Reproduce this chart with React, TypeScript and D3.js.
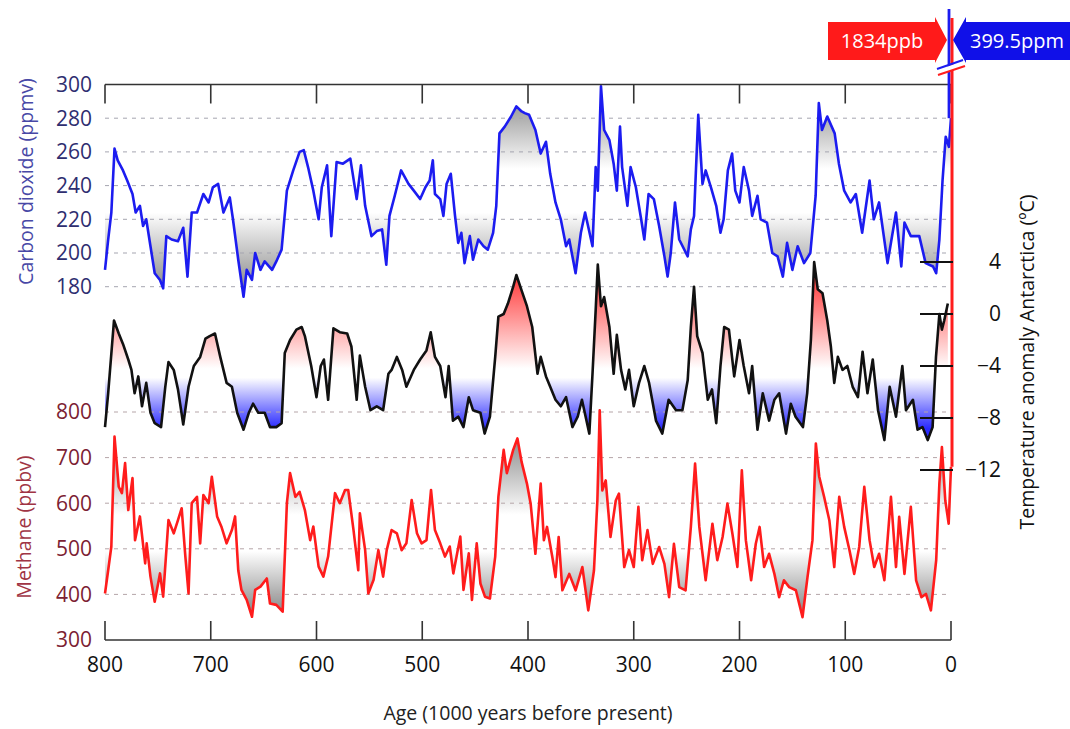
import React from "react";
import * as d3 from "d3";

// axis ticks
const ageTicks = [800, 700, 600, 500, 400, 300, 200, 100, 0];
const co2Ticks = [300, 280, 260, 240, 220, 200, 180];
const ch4Ticks = [800, 700, 600, 500, 400, 300];
const tempTicks = [4, 0, -4, -8, -12];

// [age (kyr BP), CO2 ppmv]
const co2Data: [number, number][] = [
  [800, 190], [797, 208], [794, 224], [791, 262], [788, 255], [783, 249], [779, 243], [774, 235], [771, 224], [767, 228],
  [764, 216], [761, 220], [757, 204], [753, 188], [748, 184], [745, 179], [742, 210], [737, 208], [731, 207], [726, 215],
  [722, 186], [718, 224], [713, 224], [707, 235], [702, 230], [698, 239], [693, 241], [688, 224], [682, 233], [679, 220],
  [674, 196], [669, 174], [666, 190], [661, 184], [658, 200], [653, 190], [649, 195], [642, 190], [638, 195], [633, 202],
  [628, 237], [622, 249], [616, 260], [612, 261], [608, 251], [603, 237], [598, 220], [595, 239], [590, 252], [586, 210],
  [581, 254], [575, 253], [568, 256], [562, 232], [558, 252], [554, 228], [548, 210], [543, 213], [538, 214], [534, 193],
  [531, 222], [526, 234], [520, 249], [513, 241], [508, 237], [502, 232], [497, 239], [493, 243], [490, 255], [488, 235],
  [483, 232], [480, 222], [477, 241], [473, 247], [469, 222], [466, 206], [463, 212], [460, 194], [455, 210], [452, 196],
  [447, 208], [442, 204], [438, 202], [433, 212], [430, 228], [427, 271], [422, 275], [416, 281], [411, 287], [406, 284],
  [403, 283], [399, 282], [393, 273], [388, 259], [383, 266], [379, 247], [374, 230], [369, 220], [364, 204], [361, 208],
  [355, 188], [350, 212], [346, 224], [339, 204], [336, 251], [334, 237], [331, 299], [328, 273], [323, 267], [319, 253],
  [316, 237], [313, 275], [311, 251], [306, 228], [303, 251], [298, 239], [293, 220], [290, 208], [286, 235], [281, 232],
  [276, 216], [271, 198], [268, 186], [265, 200], [261, 230], [257, 208], [249, 198], [246, 214], [243, 222], [239, 282],
  [235, 241], [232, 249], [227, 239], [222, 228], [218, 212], [215, 220], [211, 249], [207, 259], [204, 237], [200, 230],
  [196, 251], [191, 237], [188, 222], [183, 234], [180, 220], [174, 218], [169, 200], [164, 198], [159, 186], [155, 206],
  [150, 190], [145, 204], [139, 194], [133, 200], [128, 234], [125, 289], [122, 273], [117, 281], [110, 271], [106, 253],
  [101, 237], [95, 230], [90, 235], [84, 212], [77, 243], [73, 220], [68, 230], [60, 194], [52, 224], [47, 192],
  [44, 218], [38, 210], [30, 210], [24, 194], [17, 192], [14, 188], [11, 208], [8, 243], [5, 269], [2, 263], [0, 280],
];

// [age, temperature anomaly °C]
const tempData: [number, number][] = [
  [800, -8.7], [797, -6.1], [791.5, -0.5], [787, -1.5], [783, -2.3], [778, -3.5], [775, -4.3], [772, -6.1], [768.5, -4.8], [765, -7.1],
  [761, -5.3], [757, -7.6], [753, -8.4], [747, -8.7], [743, -5.6], [740, -3.7], [735, -4.3], [731, -5.8], [726, -8.5], [721, -5.6],
  [716, -4.0], [710, -3.3], [705, -1.9], [701, -1.7], [696, -1.5], [691, -3.3], [685, -5.3], [680, -5.6], [675, -7.6], [669, -8.9],
  [664, -7.6], [660, -6.9], [655, -7.6], [649, -7.6], [644, -8.7], [638, -8.7], [633, -8.4], [630, -3.0], [625, -2.0], [619, -1.2],
  [614, -1.0], [611, -1.7], [605, -4.0], [600, -6.4], [596, -4.0], [593, -3.5], [589, -6.6], [584, -1.1], [578, -1.4], [571, -1.5],
  [567, -2.5], [562, -6.6], [559, -3.2], [554, -5.6], [549, -7.4], [543, -7.1], [537, -7.4], [532, -4.6], [529, -4.3], [524, -3.3],
  [519, -4.3], [515, -5.6], [508, -4.3], [502, -3.5], [496, -2.8], [492, -1.4], [488, -3.3], [483, -4.0], [478, -6.4], [475, -4.0],
  [471, -8.2], [466, -7.9], [461, -8.7], [456, -6.4], [452, -7.4], [445, -7.6], [441, -9.2], [436, -7.9], [431, -3.3], [428, -0.2],
  [423, 0], [419, 0.8], [414, 2.1], [411, 3.0], [406, 1.8], [401, 0.6], [396, -1.0], [391, -4.6], [388, -3.3], [383, -4.8],
  [379, -5.6], [374, -6.6], [369, -7.1], [364, -6.4], [358, -8.7], [353, -7.9], [349, -6.6], [342, -9.2], [339, -4.6], [336, 0.3],
  [334, 3.8], [331, 0.6], [328, 1.3], [323, -1.0], [319, -4.6], [316, -1.6], [312, -4.3], [308, -5.8], [304.5, -4.3], [300, -7.1],
  [295, -5.3], [290, -4.0], [285.5, -5.3], [279, -8.2], [273, -9.2], [267, -6.6], [260, -7.4], [254, -7.4], [249, -5.1], [246, -1.0],
  [243, 2.1], [240, -1.7], [235, -3.0], [230, -6.6], [226, -5.8], [222, -8.4], [218, -4.0], [214.5, -1.0], [210, -1.2], [205, -4.8],
  [200, -2.0], [196, -4.0], [191, -6.1], [188, -4.0], [183, -8.9], [178, -6.1], [172, -8.2], [167, -6.6], [162.5, -6.1], [156, -9.2],
  [151.5, -6.9], [147, -7.9], [140, -8.7], [136, -6.1], [132.5, -2.0], [129.4, 4.0], [126, 1.9], [121.5, 1.6], [117, -0.5], [113.6, -2.5],
  [110.4, -5.3], [107, -3.3], [102.6, -4.3], [98, -4.0], [93, -5.6], [88, -6.4], [83.6, -2.9], [79, -6.1], [74, -3.5], [69, -7.4],
  [63, -9.7], [58, -5.6], [52, -7.9], [46, -4.0], [42.6, -7.4], [36, -6.6], [31.6, -8.9], [27, -8.7], [22, -9.7], [17.4, -8.7],
  [14.2, -3.3], [11, 0], [8.6, -1.2], [6.4, -0.5], [3, 0.8],
];

// [age, CH4 ppbv]
const ch4Data: [number, number][] = [
  [800, 402], [797, 453], [794, 505], [791, 746], [787, 636], [784, 622], [781, 688], [778, 585], [774, 655], [771.6, 519],
  [767, 571], [762, 468], [760.6, 512], [757, 439], [753, 384], [748, 446], [745, 395], [740, 563], [735, 534], [731, 563],
  [727.5, 589], [724, 483], [721, 402], [718, 600], [713, 614], [710, 512], [707, 618], [702, 600], [699, 658], [694, 571],
  [690, 549], [685, 512], [680, 541], [677, 571], [674, 453], [671, 410], [666, 388], [661, 351], [658, 410], [653, 417],
  [647, 435], [644, 380], [638, 377], [632, 362], [628, 600], [625, 666], [620, 614], [616, 625], [611, 585], [606, 519],
  [603, 549], [598, 461], [593.5, 439], [589, 483], [582.5, 622], [578, 600], [573, 629], [570, 629], [565, 541], [560.5, 453],
  [559, 578], [554, 497], [551, 402], [546, 432], [541.5, 497], [537, 439], [533.6, 497], [529, 541], [524, 534], [519.5, 497],
  [515, 512], [510, 607], [505, 534], [500.6, 512], [496, 519], [491.7, 629], [488, 541], [483, 512], [478.5, 483], [474, 505],
  [470.6, 446], [464, 527], [461, 410], [456, 490], [453, 388], [448.5, 512], [445, 424], [440.7, 395], [436, 391], [431, 483],
  [428, 614], [423, 717], [420, 666], [414, 717], [410, 742], [406, 690], [401, 643], [397.5, 599], [393, 489], [388, 643],
  [385, 519], [382, 548], [377, 482], [374, 438], [371, 526], [367.5, 409], [361, 445], [355, 409], [348.6, 460], [343, 365],
  [337.6, 453], [334.4, 606], [332.2, 804], [329.7, 628], [326.5, 650], [322, 526], [317, 606], [314, 621], [309, 460], [304.5, 497],
  [300, 460], [295.6, 592], [292, 475], [287, 541], [282, 467], [276, 504], [271, 467], [266.6, 394], [262, 511], [257, 416],
  [251, 409], [246, 548], [242, 687], [238, 548], [232, 431], [225.6, 555], [221, 475], [216, 526], [211.4, 599], [206.7, 533],
  [202, 460], [197.8, 672], [194, 519], [189, 431], [184.6, 511], [181, 548], [176.7, 460], [172, 489], [167, 445], [162.5, 394],
  [158, 431], [153, 416], [146.7, 409], [140.4, 350], [135.7, 438], [131, 519], [127.8, 731], [124.6, 658], [120, 614], [115, 562],
  [110.4, 460], [105.7, 614], [101, 548], [96, 497], [91.5, 445], [86.8, 504], [82, 636], [77, 519], [72.6, 460], [68, 489],
  [63, 431], [56.8, 614], [52, 460], [49, 570], [44, 445], [38, 592], [33, 431], [28, 394], [23.7, 401], [19, 365],
  [14, 475], [11, 643], [8.6, 723], [5.4, 606], [2.2, 555], [0, 680],
];

const modernCO2 = 399.5;
const modernCH4 = 1834;

const FONT = "'Open Sans', 'Noto Sans', sans-serif";

const App: React.FC = () => {
  const width = 1070;
  const height = 729;

  const x = d3.scaleLinear().domain([800, 0]).range([105, 951]);
  const yCO2 = d3.scaleLinear().domain([180, 300]).range([286.7, 84.5]);
  const yT = d3.scaleLinear().domain([-12, 4]).range([470, 262]);
  const yCH4 = d3.scaleLinear().domain([300, 800]).range([640, 412]);

  const top = yCO2(300);
  const bottom = yCH4(300);
  const x0 = x(0);

  const lineOf = (y: d3.ScaleLinear<number, number>) =>
    d3.line<[number, number]>().x((d) => x(d[0])).y((d) => y(d[1]));
  const areaOf = (y: d3.ScaleLinear<number, number>, base: number) =>
    d3.area<[number, number]>().x((d) => x(d[0])).y0(y(base)).y1((d) => y(d[1]));

  // gradient stops defined in data units, mapped through the scale
  const grad = (
    id: string,
    y: d3.ScaleLinear<number, number>,
    from: number,
    to: number,
    stops: [number, string][]
  ) => {
    const y1 = y(from);
    const y2 = y(to);
    return (
      <linearGradient id={id} gradientUnits="userSpaceOnUse" x1={0} x2={0} y1={y1} y2={y2}>
        {stops.map(([v, c], i) => (
          <stop key={i} offset={(y(v) - y1) / (y2 - y1)} stopColor={c} />
        ))}
      </linearGradient>
    );
  };

  const co2Color = "#1c1cf0";
  const ch4Color = "#ff1c1c";

  return (
    <svg width={width} height={height} style={{ position: "absolute", left: 0, top: 0, background: "#fff" }}>
      <defs>
        {grad("gCO2", yCO2, 300, 170, [
          [300, "#7a7a7a"],
          [250, "#ffffff"],
          [224, "#ffffff"],
          [172, "#7a7a7a"],
        ])}
        {grad("gT", yT, 4, -10, [
          [3.5, "#ff2a2a"],
          [-4.2, "#ffffff"],
          [-4.9, "#ffffff"],
          [-8.8, "#2a2aff"],
        ])}
        {grad("gCH4", yCH4, 800, 330, [
          [760, "#808080"],
          [575, "#ffffff"],
          [495, "#ffffff"],
          [350, "#808080"],
        ])}
      </defs>

      {/* shaded anomalies */}
      <path d={areaOf(yCO2, 236)(co2Data) ?? ""} fill="url(#gCO2)" />
      <path d={areaOf(yT, -4.6)(tempData) ?? ""} fill="url(#gT)" />
      <path d={areaOf(yCH4, 535)(ch4Data) ?? ""} fill="url(#gCH4)" />

      {/* dashed grid */}
      {co2Ticks.filter((t) => t !== 300).map((t) => (
        <line key={"gc" + t} x1={x(800)} x2={x0} y1={yCO2(t)} y2={yCO2(t)} stroke="#a5a5b0" strokeWidth={1} strokeDasharray="4 5" />
      ))}
      {ch4Ticks.filter((t) => t !== 300).map((t) => (
        <line key={"gm" + t} x1={x(800)} x2={x0} y1={yCH4(t)} y2={yCH4(t)} stroke="#b5a5a8" strokeWidth={1} strokeDasharray="4 5" />
      ))}

      {/* curves */}
      <path d={lineOf(yCO2)(co2Data) ?? ""} fill="none" stroke={co2Color} strokeWidth={2.6} strokeLinejoin="round" />
      <path d={lineOf(yT)(tempData) ?? ""} fill="none" stroke="#111" strokeWidth={2.6} strokeLinejoin="round" />
      <path d={lineOf(yCH4)(ch4Data) ?? ""} fill="none" stroke={ch4Color} strokeWidth={2.6} strokeLinejoin="round" />

      {/* frame */}
      <line x1={x(800)} x2={x0} y1={top} y2={top} stroke="#333" strokeWidth={1.6} />
      <line x1={x(800)} x2={x0} y1={bottom} y2={bottom} stroke="#333" strokeWidth={1.6} />
      {ageTicks.map((a) => (
        <g key={"t" + a}>
          <line x1={x(a)} x2={x(a)} y1={top} y2={top + 19} stroke="#333" strokeWidth={1.6} />
          <line x1={x(a)} x2={x(a)} y1={bottom} y2={bottom - 19} stroke="#333" strokeWidth={1.6} />
          <text x={x(a)} y={bottom + 32} textAnchor="middle" fontFamily={FONT} fontSize={21} fill="#111">
            {a}
          </text>
        </g>
      ))}
      <text x={(x(800) + x0) / 2} y={bottom + 80} textAnchor="middle" fontFamily={FONT} fontSize={19.5} fill="#222">
        Age (1000 years before present)
      </text>

      {/* CO2 axis */}
      {co2Ticks.map((t) => (
        <text key={"c" + t} x={92} y={yCO2(t)} dy="0.35em" textAnchor="end" fontFamily={FONT} fontSize={21} fill="#2e2e70">
          {t}
        </text>
      ))}
      <text transform={`translate(26, ${yCO2(240) - 4}) rotate(-90)`} textAnchor="middle" dy="0.35em" fontFamily={FONT} fontSize={19.5} fill="#4848a6">
        Carbon dioxide (ppmv)
      </text>

      {/* CH4 axis */}
      {ch4Ticks.map((t) => (
        <text key={"m" + t} x={92} y={yCH4(t)} dy="0.35em" textAnchor="end" fontFamily={FONT} fontSize={21} fill="#7c2232">
          {t}
        </text>
      ))}
      <text transform={`translate(24, ${yCH4(550) + 1}) rotate(-90)`} textAnchor="middle" dy="0.35em" fontFamily={FONT} fontSize={19.5} fill="#a03444">
        Methane (ppbv)
      </text>

      {/* modern values, off scale */}
      <line x1={x0 - 2} x2={x0 - 2} y1={yCO2(co2Data[co2Data.length - 1][1])} y2={Math.max(9, yCO2(modernCO2))} stroke={co2Color} strokeWidth={2.8} />
      <line x1={x0 + 1} x2={x0 + 1} y1={yCH4(ch4Data[ch4Data.length - 1][1])} y2={Math.max(18, yCH4(modernCH4))} stroke={ch4Color} strokeWidth={3} />
      <polygon points={`${x0 - 14},${70} ${x0 + 13},${61} ${x0 + 13},${66} ${x0 - 13},${75}`} fill="#fff" />
      <line x1={x0 - 14} y1={69} x2={x0 + 12} y2={60} stroke={co2Color} strokeWidth={2} />
      <line x1={x0 - 13} y1={75} x2={x0 + 14} y2={66} stroke={ch4Color} strokeWidth={2} />

      {/* temperature axis */}
      {tempTicks.map((t) => (
        <g key={"T" + t}>
          <line x1={920} x2={x0 + 2} y1={yT(t)} y2={yT(t)} stroke="#111" strokeWidth={2} />
          <text x={1001} y={yT(t)} dy="0.35em" textAnchor="end" fontFamily={FONT} fontSize={21} fill="#111">
            {t < 0 ? `\u2212${-t}` : t}
          </text>
        </g>
      ))}
      <text transform={`translate(1027, ${yT(-4) - 4}) rotate(-90)`} textAnchor="middle" dy="0.35em" fontFamily={FONT} fontSize={19.5} fill="#111">
        Temperature anomaly Antarctica (ºC)
      </text>

      {/* value callouts */}
      <polygon
        points={`${x0 - 123},22 ${x0 - 16},22 ${x0 - 16},17 ${x0 - 4},40 ${x0 - 16},63 ${x0 - 16},60 ${x0 - 123},60`}
        fill="#ff1a1a"
      />
      <text x={x0 - 69} y={41} dy="0.35em" textAnchor="middle" fontFamily={FONT} fontSize={20} fill="#fff">
        {modernCH4}ppb
      </text>
      <polygon
        points={`${width},22 ${x0 + 15},22 ${x0 + 15},17 ${x0 + 2},40 ${x0 + 15},63 ${x0 + 15},60 ${width},60`}
        fill="#1010e8"
      />
      <text x={x0 + 66} y={41} dy="0.35em" textAnchor="middle" fontFamily={FONT} fontSize={20} fill="#fff">
        {modernCO2}ppm
      </text>
    </svg>
  );
};

export default App;
